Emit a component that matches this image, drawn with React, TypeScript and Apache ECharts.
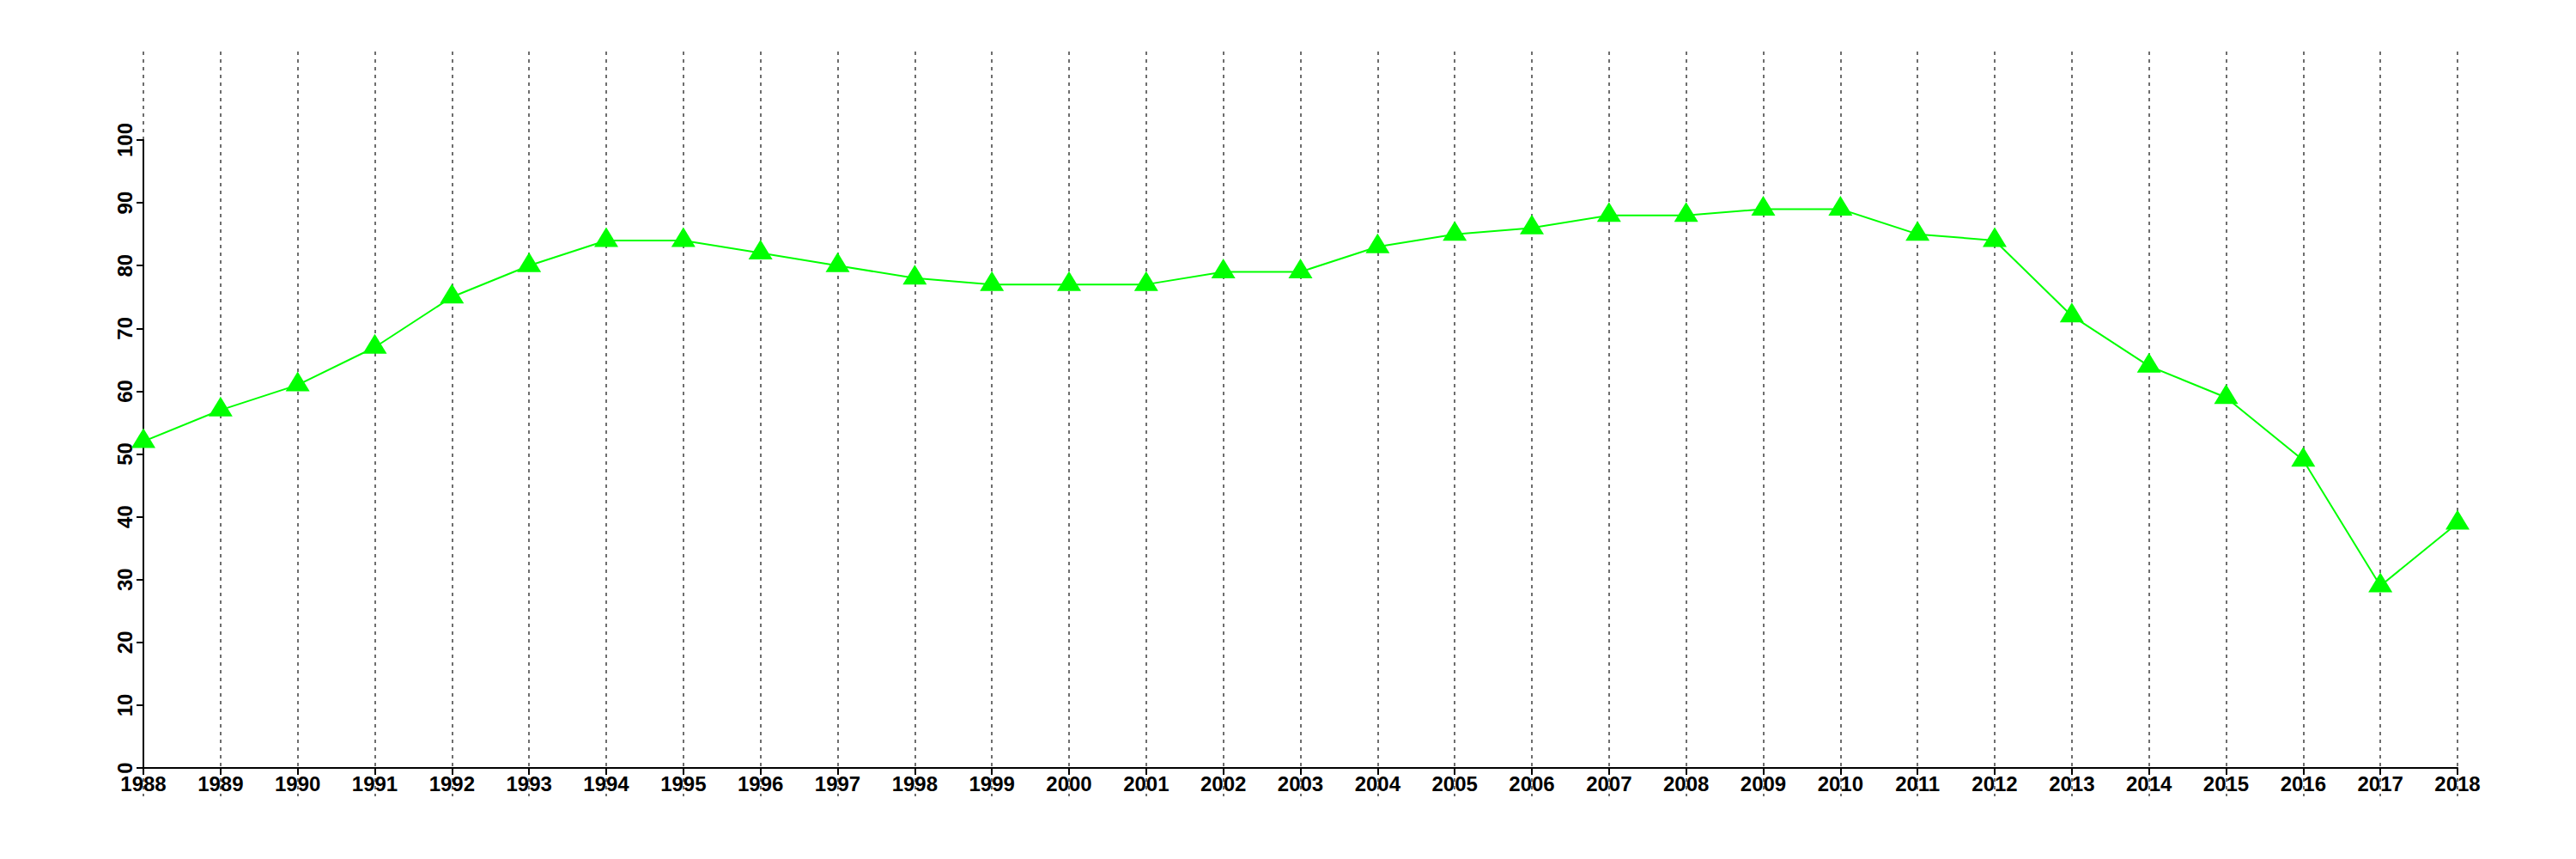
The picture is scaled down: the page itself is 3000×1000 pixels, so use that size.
import React, { useEffect, useRef } from "react";
import * as echarts from "echarts";

const years: string[] = [
  "1988", "1989", "1990", "1991", "1992", "1993", "1994", "1995", "1996", "1997",
  "1998", "1999", "2000", "2001", "2002", "2003", "2004", "2005", "2006", "2007",
  "2008", "2009", "2010", "2011", "2012", "2013", "2014", "2015", "2016", "2017", "2018",
];

const values: number[] = [
  52, 57, 61, 67, 75, 80, 84, 84, 82, 80,
  78, 77, 77, 77, 79, 79, 83, 85, 86, 88,
  88, 89, 89, 85, 84, 72, 64, 59, 49, 29, 39,
];

const yMin = 0;
const yMax = 100;
const yStep = 10;

export default function App() {
  const ref = useRef<HTMLDivElement>(null);

  useEffect(() => {
    if (!ref.current) return;
    const chart = echarts.init(ref.current, undefined, { renderer: "svg" });
    const labelFont = {
      fontFamily: "Liberation Sans, Arial, Helvetica, sans-serif",
      fontSize: 24,
      fontWeight: "bold" as const,
      color: "#000",
    };
    chart.setOption({
      animation: false,
      backgroundColor: "#fff",
      grid: [
        { left: 167, right: 138, top: 60, bottom: 73, containLabel: false },
        { left: 167, right: 138, top: 163, bottom: 106, containLabel: false },
      ],
      xAxis: [
        {
          gridIndex: 0,
          type: "category",
          data: years,
          boundaryGap: false,
          axisLine: { show: false },
          axisTick: { show: false },
          axisLabel: { show: false },
          splitLine: {
            show: true,
            interval: 0,
            lineStyle: { color: "#6e6e6e", width: 2, type: [4, 5] },
          },
          z: 0,
        },
        {
          gridIndex: 1,
          type: "category",
          data: years,
          boundaryGap: false,
          axisLine: { show: true, lineStyle: { color: "#000", width: 2 } },
          axisTick: {
            show: true,
            inside: false,
            length: 8,
            interval: 0,
            lineStyle: { color: "#000", width: 2 },
          },
          axisLabel: { ...labelFont, interval: 0, margin: 6 },
          splitLine: { show: false },
          z: 2,
        },
      ],
      yAxis: [
        {
          gridIndex: 0,
          type: "value",
          show: false,
          min: 0,
          max: 1,
          splitLine: { show: false },
        },
        {
          gridIndex: 1,
          type: "value",
          min: yMin,
          max: yMax,
          interval: yStep,
          axisLine: { show: true, lineStyle: { color: "#000", width: 2 } },
          axisTick: {
            show: true,
            inside: false,
            length: 8,
            lineStyle: { color: "#000", width: 2 },
          },
          axisLabel: { ...labelFont, rotate: 90, margin: 10 },
          splitLine: { show: false },
          z: 2,
        },
      ],
      series: [
        {
          type: "line",
          xAxisIndex: 1,
          yAxisIndex: 1,
          data: values,
          lineStyle: { color: "#00ff00", width: 2 },
          itemStyle: { color: "#00ff00" },
          symbol: "triangle",
          symbolSize: [28, 23],
          symbolOffset: [0, -4],
          showSymbol: true,
          z: 3,
        },
      ],
    });
    return () => chart.dispose();
  }, []);

  return (
    <div
      ref={ref}
      style={{ position: "fixed", left: 0, top: 0, width: 3000, height: 1000 }}
    />
  );
}
